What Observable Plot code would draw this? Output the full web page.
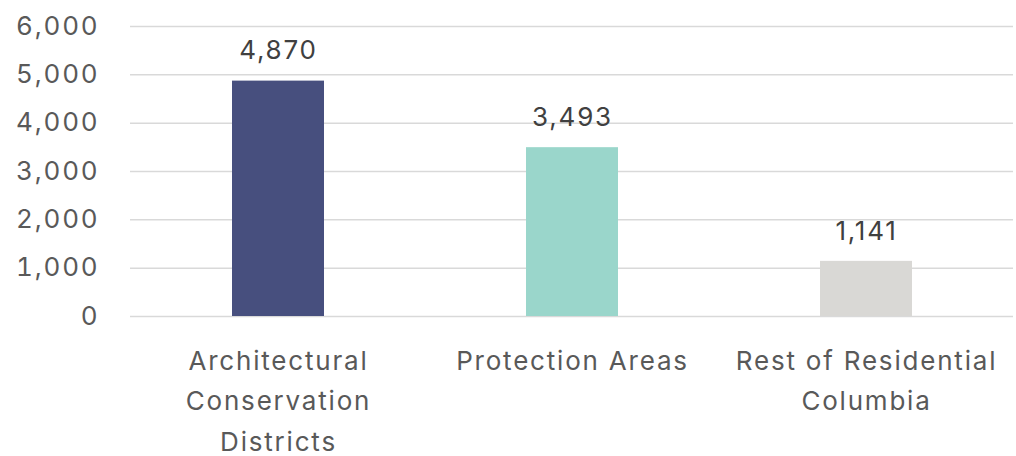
<!DOCTYPE html>
<html>
<head>
<meta charset="utf-8">
<script src="https://cdn.jsdelivr.net/npm/d3@7"></script>
<script src="https://cdn.jsdelivr.net/npm/@observablehq/plot@0.6"></script>
<style>
  html, body { margin: 0; padding: 0; background: #fff; }
  #chart { width: 1016px; height: 456px; }
  #chart svg text { letter-spacing: 1.8px; }
</style>
</head>
<body>
<div id="chart"></div>
<script>
const categories = ["Architectural Conservation Districts", "Protection Areas", "Rest of Residential Columbia"];
const categoryLabels = ["Architectural\nConservation\nDistricts", "Protection Areas", "Rest of Residential\nColumbia"];
const values = [4870, 3493, 1141];
const colors = ["#474F7E", "#9AD6CB", "#D9D8D5"];
const yTicks = [0, 1000, 2000, 3000, 4000, 5000, 6000];

const data = categories.map((c, i) => ({category: c, value: values[i], color: colors[i]}));
const labelMap = new Map(categories.map((c, i) => [c, categoryLabels[i]]));
const fmt = d3.format(",");

const chart = Plot.plot({
  width: 1016,
  height: 456,
  marginLeft: 130,
  marginRight: 3,
  marginTop: 26,
  marginBottom: 140,
  style: {fontFamily: "Inter, 'Noto Sans', sans-serif", background: "#fff"},
  x: {domain: categories, paddingInner: 0.688, paddingOuter: 0.344, label: null},
  y: {domain: [0, 6000], label: null},
  marks: [
    Plot.gridY(yTicks, {stroke: "#D9D9D9", strokeOpacity: 1, strokeWidth: 1.5}),
    Plot.axisY(yTicks, {tickSize: 0, tickPadding: 31, fontSize: 26, fill: "#595959", tickFormat: fmt, label: null}),
    Plot.axisX({tickSize: 0, tickPadding: 25, fontSize: 26, fill: "#595959", lineHeight: 1.55, tickFormat: d => labelMap.get(d), label: null}),
    Plot.barY(data, {x: "category", y: "value", fill: "color"}),
    Plot.text(data, {x: "category", y: "value", text: d => fmt(d.value), dy: -30, fontSize: 26, fill: "#404040"})
  ]
});
document.getElementById("chart").appendChild(chart);
</script>
</body>
</html>
